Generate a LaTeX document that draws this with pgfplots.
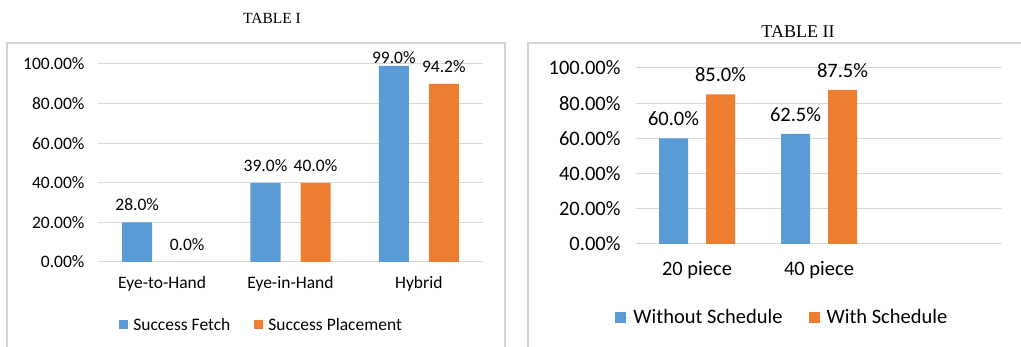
\documentclass[border=0pt]{standalone}
\usepackage{pgfplots}
\usepackage{pgfplotstable}
\pgfplotsset{compat=1.18}
\usepackage{fontspec}
\setmainfont{Carlito}
\newfontfamily\timesf{Liberation Serif}
\definecolor{xblue}{HTML}{5B9BD5}
\definecolor{xorange}{HTML}{ED7D31}
\definecolor{xgrid}{HTML}{D9D9D9}
\definecolor{xframe}{HTML}{D4D4D4}

% bar height (as drawn), printed label, label shift
\pgfplotstableread{
x y lab dy
0 20 28.0 8
1 40 39.0 8
2 99 99.0 -1
}\fetchtab
\pgfplotstableread{
x y lab dy
0 0 0.0 8
1 40 40.0 8
2 90 94.2 8
}\placetab
\pgfplotstableread{
x y lab dy
0 60 60.0 9
1 62.5 62.5 9
}\withouttab
\pgfplotstableread{
x y lab dy
0 85 85.0 9
1 87.5 87.5 9
}\withtab

\newcommand{\fsA}{\fontsize{17.5}{20}\selectfont}
\newcommand{\fsB}{\fontsize{20.5}{24}\selectfont}

\pgfplotsset{
  excelbar/.style={
    scale only axis, clip=false,
    xmin=-0.5, xmax=2.5, ymin=0, ymax=100,
    axis line style={draw=none},
    major tick length=0pt,
    ymajorgrids, grid style={xgrid, line width=1pt},
    ybar,
    xtick={0,1,2},
    ytick={0,20,40,60,80,100},
    /pgf/number format/assume math mode=true,
    yticklabel={\pgfmathprintnumber[fixed,fixed zerofill,precision=2]{\tick}\%},
    point meta=explicit,
    visualization depends on={\thisrow{dy} \as \labdy},
    nodes near coords={\pgfmathprintnumber[fixed,fixed zerofill,precision=1]{\pgfplotspointmeta}\%},
    every node near coord/.append style={anchor=south, yshift=\labdy},
    legend columns=2,
    legend cell align=left,
  },
}

\begin{document}
\begin{tikzpicture}[x=1pt,y=1pt]
\useasboundingbox (0,0) rectangle (1021,347);
\clip (0,0) rectangle (1021,347);
\fill[white] (0,0) rectangle (1021,347);
\draw[xframe, line width=1.3pt] (7,-10) rectangle (505,304);
\draw[xframe, line width=1.3pt] (528,-10) rectangle (1040,304);
\node[font=\timesf\fontsize{15.5}{18}\selectfont] at (272,329) {TABLE I};
\node[font=\timesf\fontsize{18}{21}\selectfont] at (798,315) {TABLE II};

\begin{axis}[excelbar,
  at={(98pt,85pt)}, anchor=south west,
  width=385pt, height=198pt,
  bar width=30pt,
  xticklabels={Eye-to-Hand,Eye-in-Hand,Hybrid},
  tick label style={font=\fsA},
  xticklabel style={yshift=-11pt},
  yticklabel style={xshift=-10pt},
  every node near coord/.append style={font=\fsA},
  legend style={draw=none, fill=none, at={(0.425,-0.318)}, anchor=center, font=\fsA,
    /tikz/every even column/.append style={column sep=22pt}},
  legend image code/.code={\fill[#1] (0pt,-4.5pt) rectangle (9pt,4.5pt); \path (0pt,0pt) -- (12pt,0pt);},
]
\addplot[fill=xblue, draw=none, bar shift=-25pt]
  table[x=x, y=y, meta=lab] {\fetchtab};
\addplot[fill=xorange, draw=none, bar shift=25pt]
  table[x=x, y=y, meta=lab] {\placetab};
\legend{Success Fetch, Success Placement}
\end{axis}

\begin{axis}[excelbar,
  at={(636pt,103pt)}, anchor=south west,
  width=366pt, height=176pt,
  bar width=29pt,
  xticklabels={20 piece,40 piece,},
  tick label style={font=\fsB},
  xticklabel style={yshift=-14pt},
  yticklabel style={xshift=-12pt},
  every node near coord/.append style={font=\fsB},
  legend style={draw=none, fill=none, at={(0.40,-0.415)}, anchor=center, font=\fsB,
    /tikz/every even column/.append style={column sep=24pt}},
  legend image code/.code={\fill[#1] (0pt,-5.5pt) rectangle (11pt,5.5pt); \path (0pt,0pt) -- (16pt,0pt);},
]
\addplot[fill=xblue, draw=none, bar shift=-23.5pt]
  table[x=x, y=y, meta=lab] {\withouttab};
\addplot[fill=xorange, draw=none, bar shift=23.5pt]
  table[x=x, y=y, meta=lab] {\withtab};
\legend{Without Schedule, With Schedule}
\end{axis}
\end{tikzpicture}
\end{document}
